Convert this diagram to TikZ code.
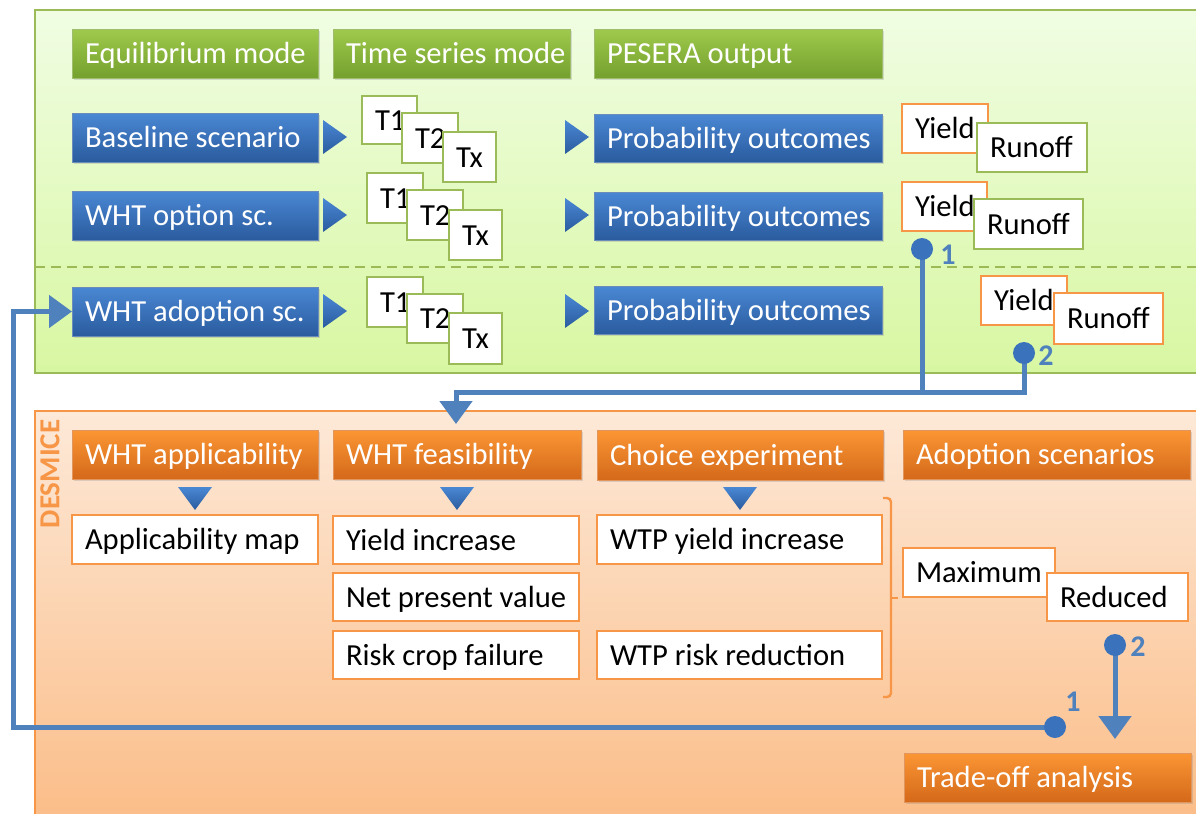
\documentclass[tikz,border=0pt]{standalone}
\usepackage{fontspec}
\setmainfont{Carlito}
\usetikzlibrary{arrows.meta,shadows}
\definecolor{gpanT}{HTML}{F0FDE3}
\definecolor{gpanB}{HTML}{D8F7A2}
\definecolor{gline}{HTML}{9BBB59}
\definecolor{gheadT}{HTML}{9FCA4C}
\definecolor{gheadB}{HTML}{74A02E}
\definecolor{bheadT}{HTML}{4A88D4}
\definecolor{bheadB}{HTML}{2A5B9E}
\definecolor{opanT}{HTML}{FDE9D8}
\definecolor{opanB}{HTML}{FBBD88}
\definecolor{oline}{HTML}{F79646}
\definecolor{oheadT}{HTML}{FB9634}
\definecolor{oheadB}{HTML}{D4691A}
\definecolor{conncol}{HTML}{4F81BD}
\definecolor{dotcol}{HTML}{3A72BC}
\newcommand\mybox[7]{%
  \pgfmathsetmacro\bh{(#6-#4)*0.5}%
  \pgfmathsetmacro\tw{(#5-#3-26)*0.5}%
  \node[#2, minimum height=\bh pt] (#1) at ({(#3+#5)/2},{(#4+#6)/2}) {\makebox[\tw pt][l]{#7}};}
\begin{document}
\begin{tikzpicture}[x=0.5pt,y=-0.5pt,
  font=\fontsize{15.3}{18}\selectfont,
  basebox/.style={rectangle, inner xsep=6.5pt, inner ysep=0pt, outer sep=0pt, text height=12.5pt, text depth=2.5pt},
  ghead/.style={basebox, top color=gheadT, bottom color=gheadB, draw=gheadB!70, line width=0.4pt, text=white,
     drop shadow={shadow xshift=1pt, shadow yshift=-1.2pt, opacity=0.25}},
  bhead/.style={basebox, top color=bheadT, bottom color=bheadB, draw=bheadB!70, line width=0.4pt, text=white,
     drop shadow={shadow xshift=1pt, shadow yshift=-1.2pt, opacity=0.25}},
  ohead/.style={basebox, top color=oheadT, bottom color=oheadB, draw=oheadB!70, line width=0.4pt, text=white,
     drop shadow={shadow xshift=1pt, shadow yshift=-1.2pt, opacity=0.25}},
  gbox/.style={basebox, fill=white, draw=gline, line width=1.4pt, text=black},
  obox/.style={basebox, fill=white, draw=oline, line width=1.4pt, text=black},
  tri/.style={top color=bheadT, bottom color=bheadB, draw=none},
  conn/.style={draw=conncol, line width=2.5pt},
  tip/.style={-{Triangle[width=16pt,length=11.5pt]}},
  dot/.style={circle, fill=dotcol, inner sep=0pt, minimum size=11pt},
  num/.style={text=conncol, font=\fontsize{15}{17}\selectfont\bfseries}
]
\useasboundingbox (0,0) rectangle (1196,814);
% panels
\path[top color=gpanT, bottom color=gpanB, draw=gline, line width=1pt] (35,10) rectangle (1200,373);
\path[top color=opanT, bottom color=opanB, draw=oline, line width=1pt] (35,411) rectangle (1200,820);
\draw[gline, line width=0.8pt, dash pattern=on 5pt off 3pt] (35,267) -- (1196,267);

% green headers
\mybox{eq}{ghead}{72}{29}{318}{78}{Equilibrium mode}
\mybox{ts}{ghead}{333}{29}{570}{78}{Time series mode}
\mybox{pes}{ghead}{594}{29}{882}{78}{PESERA output}

% blue scenario boxes
\mybox{base}{bhead}{72}{113}{318}{162}{Baseline scenario}
\mybox{opt}{bhead}{72}{191}{318}{240}{WHT option sc.}
\mybox{adopt}{bhead}{72}{287}{318}{336}{WHT adoption sc.}
\mybox{p1}{bhead}{594}{114}{882}{162}{Probability outcomes}
\mybox{p2}{bhead}{594}{192}{882}{240}{Probability outcomes}
\mybox{p3}{bhead}{594}{286}{882}{334}{Probability outcomes}

% right-pointing triangles
\foreach \cy in {137,215,311}{
  \path[tri] (323,\cy-17) -- (347,\cy) -- (323,\cy+17) -- cycle;
  \path[tri] (565,\cy-17) -- (589,\cy) -- (565,\cy+17) -- cycle;
}

% time stacks
\mybox{a1}{gbox}{362}{96}{417}{144}{T1}
\mybox{a2}{gbox}{402}{113}{458}{163}{T2}
\mybox{ax}{gbox}{443}{132}{496}{182}{Tx}
\mybox{b1}{gbox}{367}{173}{423}{223}{T1}
\mybox{b2}{gbox}{407}{190}{463}{240}{T2}
\mybox{bx}{gbox}{449}{210}{502}{260}{Tx}
\mybox{c1}{gbox}{367}{277}{423}{327}{T1}
\mybox{c2}{gbox}{407}{294}{463}{343}{T2}
\mybox{cx}{gbox}{449}{313}{502}{364}{Tx}

% yield / runoff
\mybox{y1}{obox}{902}{104}{988}{153}{Yield}
\mybox{r1}{gbox}{977}{123}{1087}{172}{Runoff}
\mybox{y2}{obox}{902}{182}{987}{231}{Yield}
\mybox{r2}{gbox}{974}{199}{1083}{249}{Runoff}
\mybox{y3}{obox}{981}{276}{1067}{325}{Yield}
\mybox{r3}{obox}{1054}{293}{1163}{344}{Runoff}

% DESMICE
\node[rotate=90, text=oline, font=\fontsize{14.5}{16}\selectfont\bfseries] (desm) at (50,474) {DESMICE};

% orange headers
\mybox{app}{ohead}{72}{430}{318}{479}{WHT applicability}
\mybox{feas}{ohead}{333}{430}{581}{479}{WHT feasibility}
\mybox{choice}{ohead}{597}{430}{883}{480}{Choice experiment}
\mybox{adsc}{ohead}{903}{430}{1190}{479}{Adoption scenarios}
\mybox{trade}{ohead}{904}{753}{1191}{802}{Trade-off analysis}

% down triangles
\foreach \cx in {195,457,740}{
  \path[tri] (\cx-17,487) -- (\cx+17,487) -- (\cx,510) -- cycle;
}

% white orange boxes
\mybox{map}{obox}{72}{515}{318}{564}{Applicability map}
\mybox{yinc}{obox}{333}{516}{579}{564}{Yield increase}
\mybox{npv}{obox}{333}{573}{579}{621}{Net present value}
\mybox{risk}{obox}{333}{631}{579}{679}{Risk crop failure}
\mybox{wtpy}{obox}{597}{515}{882}{564}{WTP yield increase}
\mybox{wtpr}{obox}{597}{631}{882}{679}{WTP risk reduction}
\mybox{maxi}{obox}{903}{548}{1055}{597}{Maximum}
\mybox{red}{obox}{1047}{573}{1188}{621}{Reduced}

% bracket
\draw[oline, line width=1.2pt, rounded corners=2pt] (883,498) -- (891,498) -- (891,697) -- (883,697);
\draw[oline, line width=1.2pt] (891,598) -- (898,598);

% connectors
\coordinate (e1) at (922,249);
\coordinate (e2) at (1024,353);
\coordinate (e3) at (1055,727);
\coordinate (e4) at (1115,645);
\coordinate (j1) at (922,392);
\coordinate (j2) at (1024,392);
\coordinate (k1) at (456,392);
\coordinate (tipA) at (456,424);
\coordinate (lb) at (13,727);
\coordinate (tipB) at (1115,739);

\draw[conn] (e1) -- (j1);
\draw[conn, tip] (e2) -- (j2) -- (k1) -- (tipA);
\draw[conn, tip] (e3) -- (lb) |- (adopt.west);
\draw[conn, tip] (e4) -- (tipB);

\node[dot] (d1) at (e1) {};
\node[dot] (d2) at (e2) {};
\node[dot] (d3) at (e3) {};
\node[dot] (d4) at (e4) {};
\node[num] (n1) at (948,255) {1};
\node[num] (n2) at (1046,356) {2};
\node[num] (n3) at (1073,702) {1};
\node[num] (n4) at (1138,647) {2};
\end{tikzpicture}
\end{document}
